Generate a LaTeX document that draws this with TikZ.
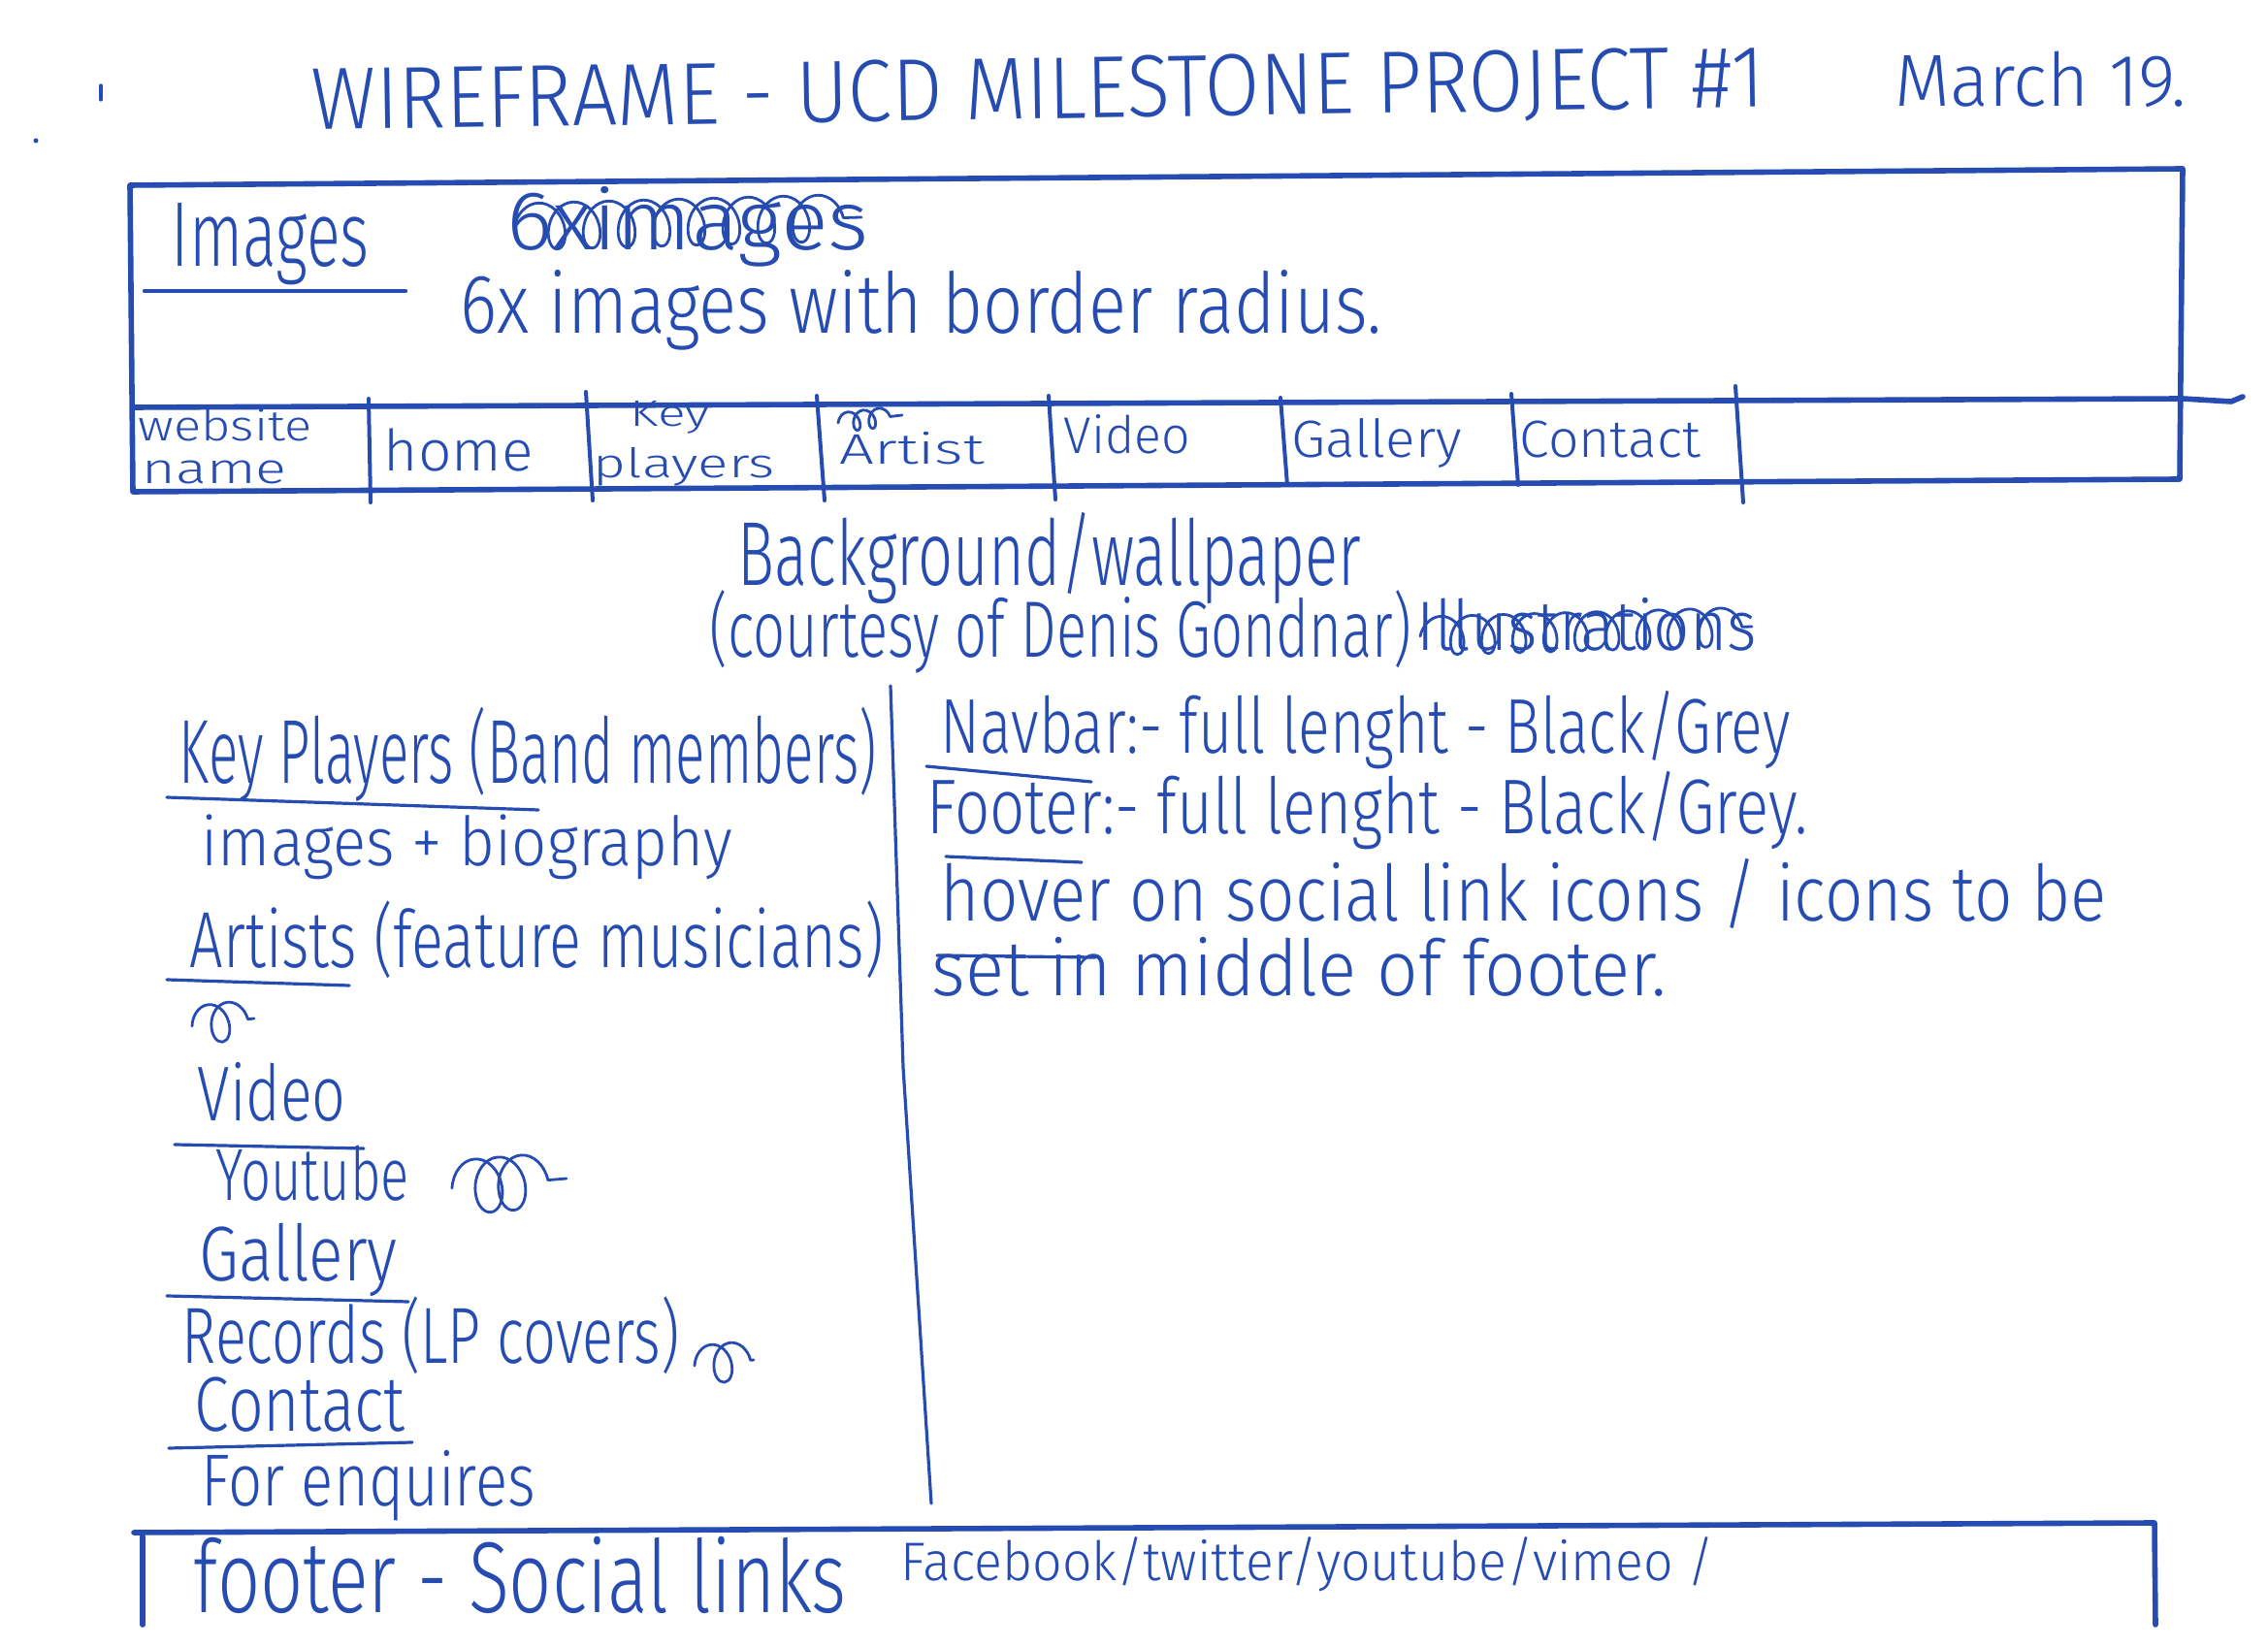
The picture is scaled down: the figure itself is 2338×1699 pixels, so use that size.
\documentclass[tikz,border=0pt]{standalone}
\usepackage{fontspec}
\setmainfont{Fira Sans}[UprightFont=* Light]
\usetikzlibrary{decorations.pathmorphing}
\definecolor{ink}{RGB}{38,76,178}
% one sketch pixel
\newdimen\pxu \pxu=0.25pt
% text squeezed to a given width (in sketch pixels), keeping its height
\newcommand\hw[2]{\resizebox{#1\pxu}{\height}{#2}}
\newcommand\fs[1]{\fontsize{#1}{#1}\selectfont}
\begin{document}
\begin{tikzpicture}[x=0.25pt,y=-0.25pt,
  hand/.style={inner sep=0pt, anchor=base west, text=ink},
  pen/.style={draw=ink, line width=0.8pt, line cap=round, line join=round},
  frame/.style={draw=ink, line width=1.4pt, line cap=round, line join=round},
  scrib/.style={pen, line width=0.7pt, decorate, decoration={coil, aspect=0.7, #1}},
]
\fill[white] (0,0) rectangle (2338,1699);
\useasboundingbox (0,0) rectangle (2338,1699);

% heading
\node[hand, font=\fs{22.7}, rotate=0.9] (title) at (321,134) {\hw{1498}{WIREFRAME - UCD MILESTONE PROJECT \#1}};
\node[hand, font=\fs{19}] (date) at (1953,110) {\hw{300}{March 19.}};
\coordinate (tickA) at (104,88); \coordinate (tickB) at (104,103);
\draw[pen] (tickA) -- (tickB);
\fill[ink] (37,145) circle (2.5);

% header box with navbar row
\coordinate (hTL) at (134,191); \coordinate (hTR) at (2250,174);
\coordinate (hBR) at (2247,494); \coordinate (hBL) at (137,507);
\draw[frame] (hTL) -- (hTR) -- (hBR) -- (hBL) -- cycle;
\coordinate (nL) at (138,420); \coordinate (nR) at (2250,411);
\coordinate (nX) at (2300,414); \coordinate (nH) at (2312,409);
\draw[frame] (nL) -- (nR) -- (nX) -- (nH);
\foreach \xa/\ya/\xb/\yb in {380/411/382/518, 604/404/611/516, 842/408/850/516,
  1081/408/1088/515, 1320/410/1327/500, 1558/406/1565/500, 1789/398/1797/518}
  \draw[pen, line width=1pt] (\xa,\ya) -- (\xb,\yb);

% header content
\node[hand, font=\fs{23.7}] (images) at (176,275) {\hw{204}{Images}};
\coordinate (imgUL) at (149,300); \coordinate (imgUR) at (418,300);
\draw[pen, line width=1.1pt] (imgUL) -- (imgUR);
\node[hand, font=\fs{21.6}] (sixold) at (522,258) {\hw{373}{6ximages}};
\draw[scrib={amplitude=6pt, segment length=9pt}] (530,234) -- (888,224);
\node[hand, font=\fs{21.6}] (six) at (474,344) {\hw{950}{6x images with border radius.}};

% navbar labels
\node[hand, font=\fs{11}] (site) at (142,455) {\hw{179}{website}};
\node[hand, font=\fs{11}] (sname) at (146,499) {\hw{149}{name}};
\node[hand, font=\fs{14.7}] (home) at (395,486) {\hw{154}{home}};
\node[hand, font=\fs{9.5}] (key) at (649,440) {\hw{82}{Key}};
\node[hand, font=\fs{10.5}] (players) at (611,493) {\hw{187}{players}};
\node[hand, font=\fs{11}] (artistnav) at (865,479) {\hw{149}{Artist}};
\draw[scrib={amplitude=2.5pt, segment length=4pt}] (864,436) -- (930,428);
\node[hand, font=\fs{13.3}] (videonav) at (1096,468) {\hw{130}{Video}};
\node[hand, font=\fs{13.5}] (gallerynav) at (1331,472) {\hw{175}{Gallery}};
\node[hand, font=\fs{13.5}] (contactnav) at (1566,472) {\hw{186}{Contact}};

% background note
\node[hand, font=\fs{23.4}] (bg) at (760,604) {\hw{642}{Background/wallpaper}};
\node[hand, font=\fs{20.6}] (courtesy) at (731,678) {\hw{723}{(courtesy of Denis Gondnar)}};
\node[hand, font=\fs{18}] (illus) at (1460,671) {\hw{350}{Illustrations}};
\draw[scrib={amplitude=5pt, segment length=8pt}] (1464,656) -- (1806,646);

% left column: page sections
\node[hand, font=\fs{23.4}] (kp) at (184,808) {\hw{719}{Key Players (Band members)}};
\draw[pen] (172,822) -- (555,835);
\node[hand, font=\fs{17.5}] (bio) at (207,893) {\hw{547}{images + biography}};
\node[hand, font=\fs{20.5}] (artists) at (195,998) {\hw{715}{Artists (feature musicians)}};
\draw[pen] (172,1010) -- (360,1016);
\draw[scrib={amplitude=5pt, segment length=5pt}] (198,1058) -- (262,1050);
\node[hand, font=\fs{20}] (videoL) at (203,1156) {\hw{153}{Video}};
\draw[pen] (180,1180) -- (375,1184);
\node[hand, font=\fs{19}] (youtube) at (222,1238) {\hw{199}{Youtube}};
\draw[scrib={amplitude=7pt, segment length=6pt}] (466,1225) -- (584,1215);
\node[hand, font=\fs{20}] (galleryL) at (205,1321) {\hw{204}{Gallery}};
\draw[pen] (172,1336) -- (421,1342);
\node[hand, font=\fs{20.5}] (records) at (187,1406) {\hw{513}{Records (LP covers)}};
\draw[scrib={amplitude=5pt, segment length=5pt}] (716,1408) -- (777,1402);
\node[hand, font=\fs{20}] (contactL) at (200,1476) {\hw{217}{Contact}};
\draw[pen] (174,1493) -- (425,1487);
\node[hand, font=\fs{19}] (enq) at (207,1553) {\hw{344}{For enquires}};

% column divider
\coordinate (dT) at (918,707); \coordinate (dM) at (931,1100); \coordinate (dB) at (960,1550);
\draw[pen] (dT) -- (dM) -- (dB);

% right column: notes
\node[hand, font=\fs{20}] (navbar) at (969,777) {\hw{876}{Navbar:- full lenght - Black/Grey}};
\draw[pen] (955,790) -- (1125,806);
\node[hand, font=\fs{20}] (footer) at (955,860) {\hw{908}{Footer:- full lenght - Black/Grey.}};
\draw[pen] (975,883) -- (1115,889);
\node[hand, font=\fs{20}] (hover) at (969,950) {\hw{1202}{hover on social link icons / icons to be}};
\draw[pen] (966,985) -- (1129,987);
\node[hand, font=\fs{20}] (setin) at (960,1027) {\hw{757}{set in middle of footer.}};

% footer box
\coordinate (fTL) at (138,1580); \coordinate (fTR) at (2221,1570);
\coordinate (fBL) at (147,1675); \coordinate (fBR) at (2222,1675);
\draw[frame] (fTL) -- (fTR) -- (fBR);
\draw[frame] (147,1584) -- (fBL);
\node[hand, font=\fs{26}] (footrow) at (199,1663) {\hw{673}{footer - Social links}};
\node[hand, font=\fs{14}] (links) at (928,1630) {\hw{839}{Facebook/twitter/youtube/vimeo /}};
\end{tikzpicture}
\end{document}
